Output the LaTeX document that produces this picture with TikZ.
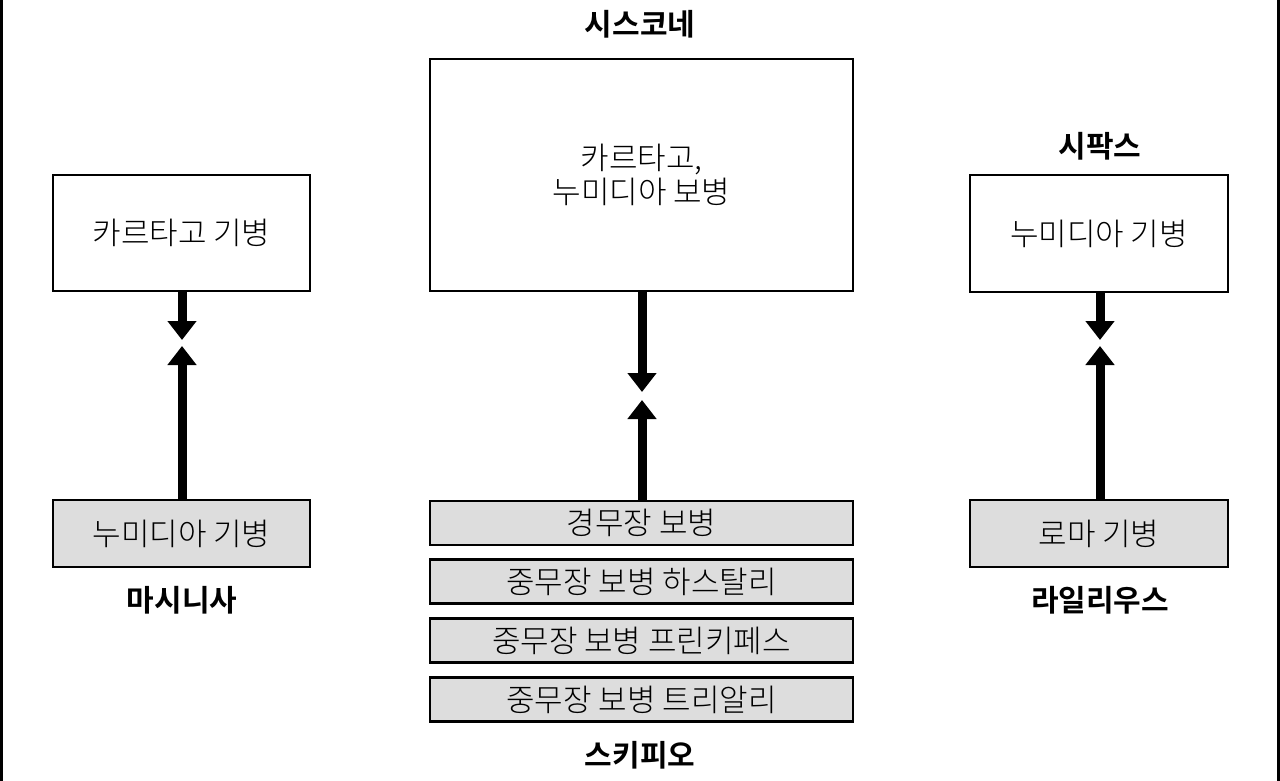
\documentclass[tikz,border=0pt]{standalone}
\usepackage{fontspec}
\setmainfont{Noto Sans CJK KR}[UprightFont={* Light}, BoldFont={* Bold}]
\usetikzlibrary{arrows.meta}
\definecolor{boxgray}{RGB}{221,221,221}
\tikzset{
  box/.style={draw=black, line width=2.5pt, fill=white, inner sep=0pt, align=center,
    font=\fontsize{31}{34}\selectfont},
  graybox/.style={box, fill=boxgray},
  lbl/.style={inner sep=0pt, font=\fontsize{30}{34}\selectfont\bfseries},
  bigarrow/.style={line width=9pt, -{Triangle[width=28pt,length=19pt]}},
  frame/.style={line width=3pt}
}
\begin{document}
\begin{tikzpicture}[x=1pt,y=-1pt]
\useasboundingbox (0,0) rectangle (1280,781);
\coordinate (fl1) at (1.5,0); \coordinate (fl2) at (1.5,781);
\coordinate (fr1) at (1278.5,0); \coordinate (fr2) at (1278.5,781);
\draw[frame] (fl1) -- (fl2);
\draw[frame] (fr1) -- (fr2);

% left column
\node[box, minimum width=257pt, minimum height=116pt] (lt) at (181.5,233) {카르타고 기병};
\node[graybox, minimum width=257pt, minimum height=67pt] (lb) at (181.5,533.5) {누미디아 기병};
\node[lbl] (llbl) at (182,600) {마시니사};
\coordinate (ltip1) at (182,340);
\coordinate (ltip2) at (182,346);
\draw[bigarrow] (lt.south -| ltip1) -- (ltip1);
\draw[bigarrow] (lb.north -| ltip2) -- (ltip2);

% center column
\node[lbl] (clbl) at (640,24) {시스코네};
\node[box, minimum width=423pt, minimum height=232pt] (ct) at (641.5,175) {카르타고,\\누미디아 보병};
\node[graybox, minimum width=423pt, minimum height=44pt] (c1) at (641.5,523) {경무장 보병};
\node[graybox, minimum width=423pt, minimum height=44pt] (c2) at (641.5,581.5) {중무장 보병 하스탈리};
\node[graybox, minimum width=423pt, minimum height=44pt] (c3) at (641.5,640.5) {중무장 보병 프린키페스};
\node[graybox, minimum width=423pt, minimum height=44pt] (c4) at (641.5,699.5) {중무장 보병 트리알리};
\node[lbl] (cblbl) at (640,755) {스키피오};
\coordinate (ctip1) at (642,392);
\coordinate (ctip2) at (642,400);
\draw[bigarrow] (ct.south -| ctip1) -- (ctip1);
\draw[bigarrow] (c1.north -| ctip2) -- (ctip2);

% right column
\node[lbl] (rlbl) at (1100,146) {시팍스};
\node[box, minimum width=258pt, minimum height=117pt] (rt) at (1099,233.5) {누미디아 기병};
\node[graybox, minimum width=258pt, minimum height=67pt] (rb) at (1099,533.5) {로마 기병};
\node[lbl] (rblbl) at (1100,600) {라일리우스};
\coordinate (rtip1) at (1100,340);
\coordinate (rtip2) at (1100,346);
\draw[bigarrow] (rt.south -| rtip1) -- (rtip1);
\draw[bigarrow] (rb.north -| rtip2) -- (rtip2);
\end{tikzpicture}
\end{document}
